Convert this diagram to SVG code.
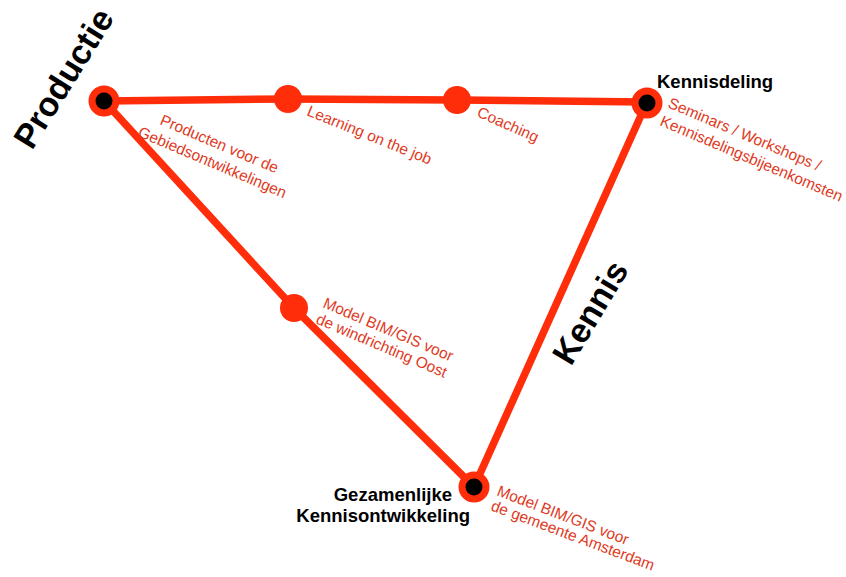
<svg xmlns="http://www.w3.org/2000/svg" width="846" height="577" viewBox="0 0 846 577">
<style>
.ln{fill:none;stroke:#ff2d0a;stroke-width:7.5;stroke-linejoin:round;stroke-linecap:round}
.hub{fill:#000;stroke:#ff2d0a;stroke-width:7}
.dot{fill:#ff2d0a}
.lbl{font-family:"Liberation Sans",Arial,sans-serif;font-size:15.5px;fill:#e03a1e}
.big{font-family:"Liberation Sans",Arial,sans-serif;font-size:34px;font-weight:bold;fill:#000}
.ttl{font-family:"Liberation Sans",Arial,sans-serif;font-size:18.5px;font-weight:bold;fill:#000}
</style>
<rect width="846" height="577" fill="#fff"/>
<g id="connectors">
<polyline class="ln" points="104,101 288,99 457,100 647,102"/>
<polyline class="ln" points="104,101 294,308 474,487"/>
<line class="ln" x1="647" y1="102" x2="474" y2="487"/>
</g>
<g id="productie">
<circle class="hub" cx="104" cy="101" r="12"/>
<text class="big" transform="translate(32,151) rotate(-58)">Productie</text>
<text class="lbl" transform="translate(159,124) rotate(23)">Producten voor de</text>
<text class="lbl" transform="translate(137,136) rotate(23)">Gebiedsontwikkelingen</text>
</g>
<g id="learning">
<circle class="dot" cx="288" cy="99" r="14"/>
<text class="lbl" transform="translate(306,115) rotate(22)">Learning on the job</text>
</g>
<g id="coaching">
<circle class="dot" cx="457" cy="100" r="14"/>
<text class="lbl" transform="translate(476,116) rotate(24)">Coaching</text>
</g>
<g id="kennisdeling">
<circle class="hub" cx="647" cy="103" r="12"/>
<text class="ttl" x="657" y="88">Kennisdeling</text>
<text class="lbl" transform="translate(667,107) rotate(23)">Seminars / Workshops /</text>
<text class="lbl" transform="translate(659,125) rotate(23)">Kennisdelingsbijeenkomsten</text>
</g>
<g id="model-oost">
<circle class="dot" cx="294" cy="308" r="14"/>
<text class="lbl" transform="translate(322,307) rotate(23)">Model BIM/GIS voor</text>
<text class="lbl" transform="translate(315,323) rotate(23)">de windrichting Oost</text>
</g>
<g id="gezamenlijke">
<circle class="hub" cx="474" cy="487" r="12"/>
<text class="ttl" x="452" y="501" text-anchor="end">Gezamenlijke</text>
<text class="ttl" x="470" y="522" text-anchor="end">Kennisontwikkeling</text>
<text class="lbl" transform="translate(496,495) rotate(21)">Model BIM/GIS voor</text>
<text class="lbl" transform="translate(490,510) rotate(20.5)">de gemeente Amsterdam</text>
</g>
<g id="kennis">
<text class="big" transform="translate(571,367) rotate(-59)">Kennis</text>
</g>
</svg>
